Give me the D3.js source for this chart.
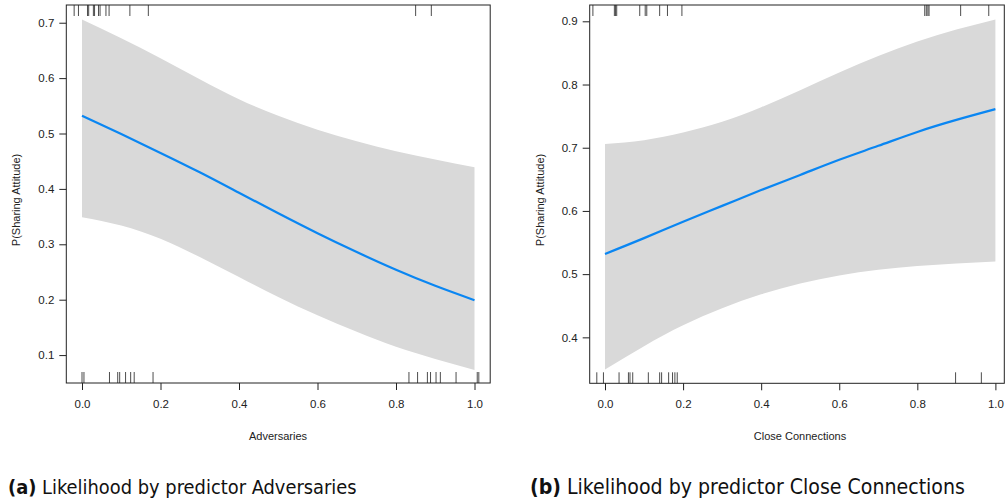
<!DOCTYPE html>
<html><head><meta charset="utf-8">
<script src="https://cdn.jsdelivr.net/npm/d3@7"></script>
<style>body{margin:0;background:#fff}svg{display:block}</style>
</head><body><svg id="c" width="1005" height="504"></svg>
<script>
const xGrid = [0,0.1,0.2,0.3,0.4,0.5,0.6,0.7,0.8,0.9,1.0];
const advFit   = [0.532,0.499,0.465,0.430,0.393,0.356,0.320,0.286,0.254,0.225,0.199];
const advUpper = [0.706,0.672,0.636,0.598,0.562,0.532,0.507,0.486,0.468,0.453,0.439];
const advLower = [0.349,0.334,0.310,0.277,0.241,0.205,0.172,0.142,0.115,0.093,0.073];
const ccFit    = [0.532,0.557,0.583,0.608,0.633,0.657,0.681,0.703,0.725,0.744,0.761];
const ccUpper  = [0.706,0.712,0.724,0.741,0.764,0.791,0.819,0.845,0.868,0.887,0.903];
const ccLower  = [0.349,0.386,0.419,0.446,0.468,0.485,0.498,0.507,0.513,0.517,0.520];
const advRugTop    = [-0.020,-0.009,0.014,0.017,0.029,0.032,0.042,0.046,0.061,0.069,0.122,0.169,0.850,0.890];
const advRugBottom = [0.000,0.005,0.070,0.091,0.096,0.111,0.124,0.133,0.181,0.833,0.855,0.880,0.888,0.902,0.913,0.953,1.007,1.011];
const ccRugTop     = [-0.031,0.024,0.027,0.030,0.089,0.103,0.107,0.140,0.160,0.197,0.819,0.823,0.827,0.830,0.911,0.983];
const ccRugBottom  = [-0.021,-0.004,0.036,0.060,0.064,0.071,0.111,0.140,0.145,0.163,0.173,0.179,0.185,0.898,0.964];
const xTicks = [0,0.2,0.4,0.6,0.8,1.0];
const advYTicks = [0.1,0.2,0.3,0.4,0.5,0.6,0.7];
const ccYTicks = [0.4,0.5,0.6,0.7,0.8,0.9];
const yTitle = "P(Sharing Attitude)";

const svg = d3.select("#c");
const fmt = d3.format(".1f");
const FONT = "'Liberation Sans', Arial, Helvetica, sans-serif";

function panel(o){
  const x = d3.scaleLinear().domain(o.xDom).range([o.x0, o.x1]);
  const y = d3.scaleLinear().domain(o.yDom).range([o.y1, o.y0]);
  const g = svg.append("g");
  const band = d3.area().x((d,i)=>x(xGrid[i])).y0((d,i)=>y(o.lower[i])).y1((d,i)=>y(o.upper[i])).curve(d3.curveNatural);
  g.append("path").attr("d", band(xGrid)).attr("fill","#d9d9d9");
  const line = d3.line().x((d,i)=>x(xGrid[i])).y((d,i)=>y(o.fit[i])).curve(d3.curveNatural);
  g.append("path").attr("d", line(xGrid)).attr("fill","none").attr("stroke","#0a86f2").attr("stroke-width",2.2);
  // rugs
  g.selectAll(null).data(o.rugTop).enter().append("line")
    .attr("x1",d=>x(d)).attr("x2",d=>x(d)).attr("y1",o.y0).attr("y2",o.y0+11)
    .attr("stroke","#000").attr("stroke-opacity",0.7).attr("stroke-width",1);
  g.selectAll(null).data(o.rugBottom).enter().append("line")
    .attr("x1",d=>x(d)).attr("x2",d=>x(d)).attr("y1",o.y1).attr("y2",o.y1-11)
    .attr("stroke","#000").attr("stroke-opacity",0.7).attr("stroke-width",1);
  // box
  g.append("rect").attr("x",o.x0).attr("y",o.y0).attr("width",o.x1-o.x0).attr("height",o.y1-o.y0)
    .attr("fill","none").attr("stroke","#222").attr("stroke-width",1);
  // axes
  const ax = g.append("g").attr("transform",`translate(0,${o.y1})`)
    .call(d3.axisBottom(x).tickValues(xTicks).tickFormat(fmt).tickSize(7).tickPadding(10));
  const ay = g.append("g").attr("transform",`translate(${o.x0},0)`)
    .call(d3.axisLeft(y).tickValues(o.yTicks).tickFormat(fmt).tickSize(7).tickPadding(5));
  [ax,ay].forEach(a=>{
    a.select(".domain").remove();
    a.selectAll(".tick line").attr("stroke","#222");
    a.selectAll(".tick text").attr("font-family",FONT).attr("font-size","11.5px").attr("fill","#222");
  });
  g.append("text").attr("x",(o.xc)).attr("y",440).attr("text-anchor","middle")
    .attr("font-family",FONT).attr("font-size","11px").attr("fill","#222").text(o.xTitle);
  g.append("text").attr("transform",`translate(${o.x0-46},200) rotate(-90)`).attr("text-anchor","middle")
    .attr("font-family",FONT).attr("font-size","11px").attr("fill","#222").text(yTitle);
  // caption
  const cap = svg.append("text").attr("x",o.capX).attr("y",494)
    .attr("font-family","'Liberation Sans Narrow','DejaVu Sans Condensed','Liberation Sans',sans-serif")
    .attr("font-size","18px").attr("fill","#111");
  cap.append("tspan").attr("font-weight","bold").text(o.capLabel);
  cap.append("tspan").text(" " + o.capText);
  const w = cap.node().getComputedTextLength();
  cap.attr("font-size", (18*o.capW/w)+"px");
}

panel({xDom:[-0.04,1.04], yDom:[0.0496,0.732], x0:66.3, x1:490.2, y0:5, y1:383,
  fit:advFit, upper:advUpper, lower:advLower, rugTop:advRugTop, rugBottom:advRugBottom,
  yTicks:advYTicks, xTitle:"Adversaries", xc:278, capX:8, capW:349,
  capLabel:"(a)", capText:"Likelihood by predictor Adversaries"});
panel({xDom:[-0.0392,1.0228], yDom:[0.3273,0.9258], x0:589.7, x1:1004.3, y0:5, y1:383.3,
  fit:ccFit, upper:ccUpper, lower:ccLower, rugTop:ccRugTop, rugBottom:ccRugBottom,
  yTicks:ccYTicks, xTitle:"Close Connections", xc:800, capX:530, capW:435,
  capLabel:"(b)", capText:"Likelihood by predictor Close Connections"});
</script></body></html>
